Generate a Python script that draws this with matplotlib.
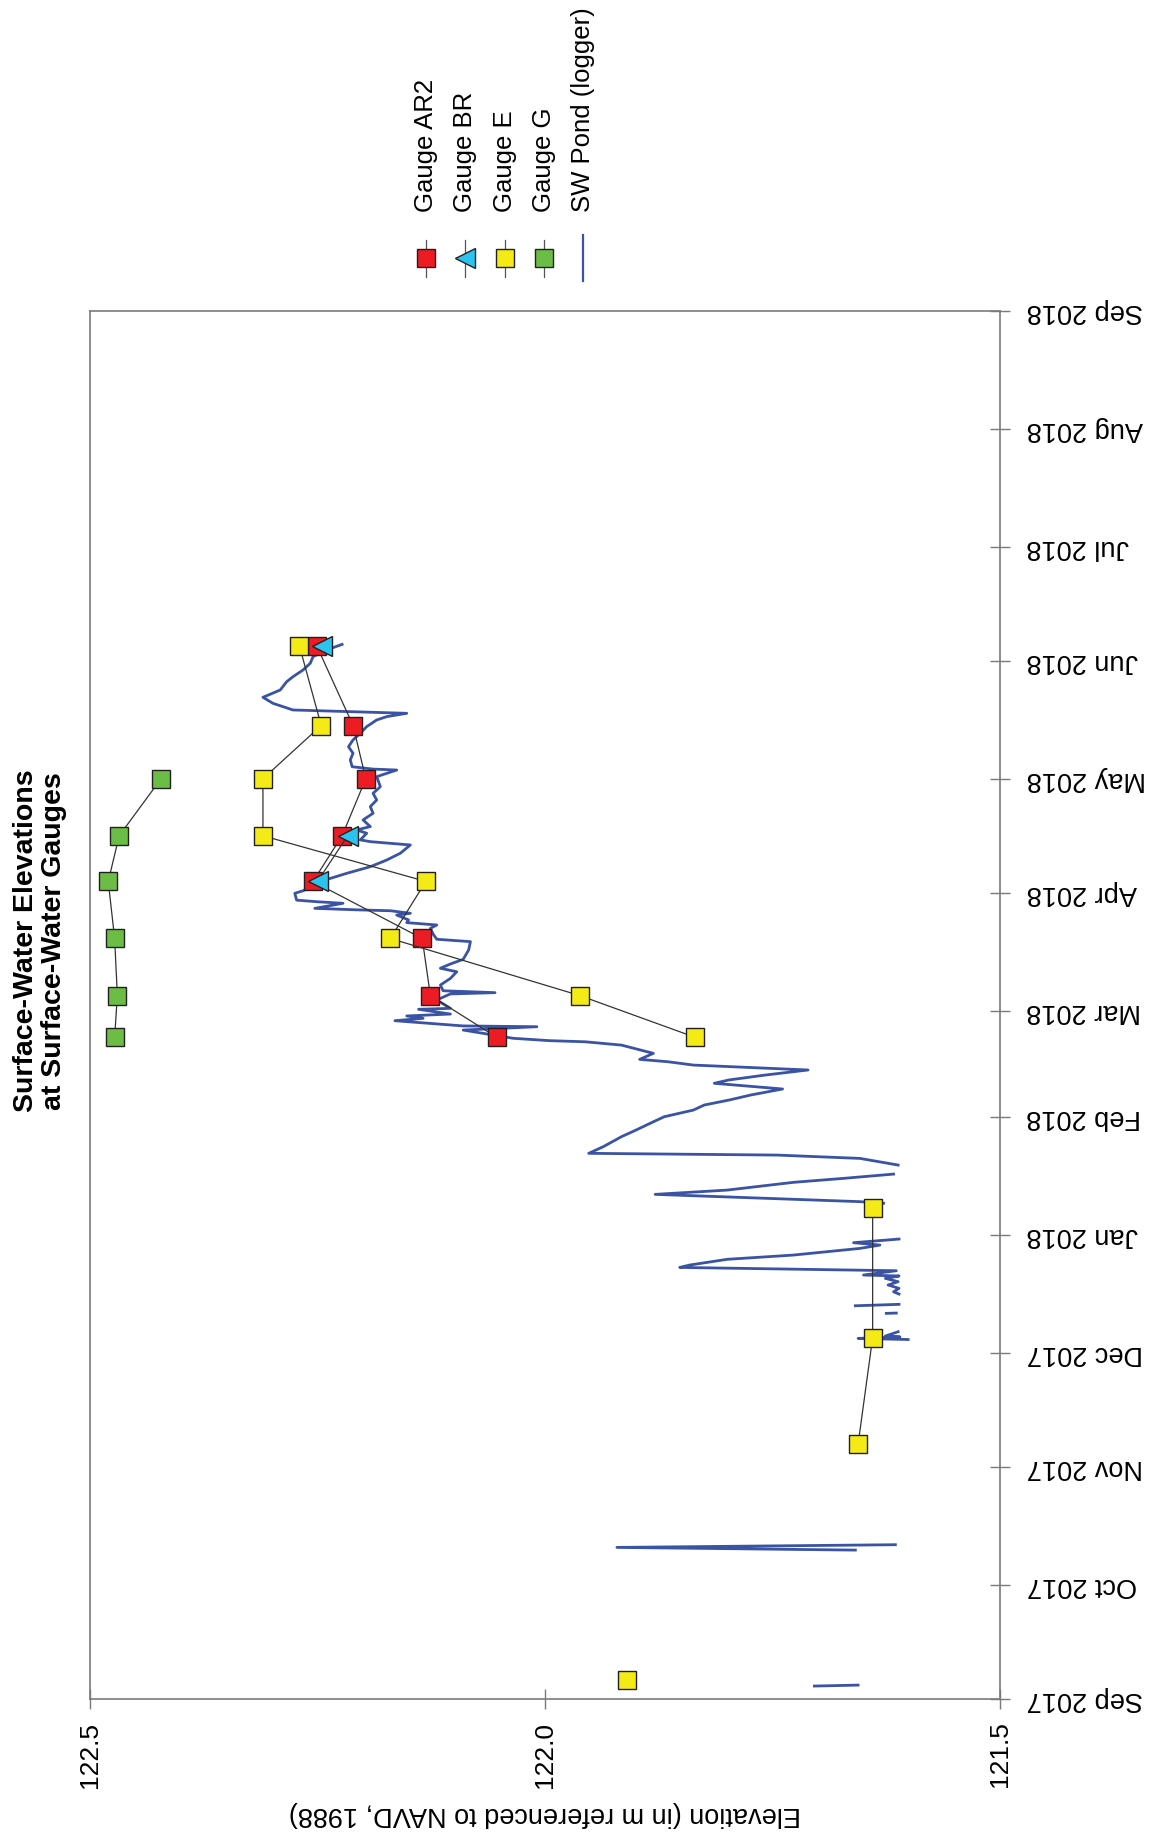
import numpy as np
import pandas as pd
import matplotlib
matplotlib.use("Agg")
import matplotlib.pyplot as plt
import matplotlib.dates as md
from matplotlib.lines import Line2D

plt.rcParams['font.family'] = ['Liberation Sans', 'DejaVu Sans']

nan = np.nan

# Field visits and staff-gauge readings (m, NAVD 1988); NaN = gauge not read
visit_dates = ["2017-09-06", "2017-10-11", "2017-11-07", "2017-12-05",
               "2018-01-08", "2018-02-07", "2018-02-22", "2018-03-05",
               "2018-03-20", "2018-04-04", "2018-04-16", "2018-05-01",
               "2018-05-15", "2018-06-05"]
gauge_ar2 = [nan, nan, nan, nan, nan, nan, 122.053, 122.126,
             122.135, 122.255, 122.223, 122.197, 122.211, 122.251]
gauge_br = [nan, nan, nan, nan, nan, nan, nan, nan,
            nan, 122.250, 122.217, nan, nan, 122.245]
gauge_e = [121.910, nan, 121.656, 121.640, 121.640, nan, 121.835, 121.962,
           122.170, 122.131, 122.310, 122.310, 122.246, 122.270]
gauge_g = [nan, nan, nan, nan, nan, nan, 122.473, 122.470,
           122.473, 122.480, 122.468, 122.422, nan, nan]

# SW Pond pressure logger (NaN rows mark gaps in the record)
logger_time = [
    "2017-09-04 10:00", "2017-09-04 16:00", "2017-09-20 00:00",
    "2017-10-10 04:00", "2017-10-10 21:00", "2017-10-11 14:00", "2017-11-20 00:00",
    "2017-12-04 13:00", "2017-12-04 20:00", "2017-12-05 05:00", "2017-12-05 11:00",
    "2017-12-06 14:00", "2017-12-09 00:00",
    "2017-12-11 10:00", "2017-12-11 12:00", "2017-12-12 12:00",
    "2017-12-13 10:00", "2017-12-13 19:00", "2017-12-15 00:00",
    "2017-12-16 12:00", "2017-12-17 02:00", "2017-12-18 00:00", "2017-12-18 21:00",
    "2017-12-19 18:00", "2017-12-20 15:00", "2017-12-21 06:00", "2017-12-21 12:00",
    "2017-12-22 15:00", "2017-12-23 12:00", "2017-12-24 03:00", "2017-12-25 15:00",
    "2017-12-26 18:00", "2017-12-28 12:00", "2017-12-29 09:00", "2017-12-30 00:00",
    "2017-12-30 23:00", "2018-01-05 00:00",
    "2018-01-09 09:00", "2018-01-09 19:00", "2018-01-10 16:00", "2018-01-11 17:00",
    "2018-01-12 20:00", "2018-01-14 21:00", "2018-01-15 22:00", "2018-01-17 01:00",
    "2018-01-18 06:00",
    "2018-01-19 10:00", "2018-01-21 04:00", "2018-01-22 01:00", "2018-01-22 12:00",
    "2018-01-24 06:00", "2018-01-26 21:00", "2018-01-28 15:00", "2018-01-30 19:00",
    "2018-02-01 03:00", "2018-02-02 21:00", "2018-02-04 05:00", "2018-02-05 12:00",
    "2018-02-06 20:00", "2018-02-08 10:00", "2018-02-09 22:00", "2018-02-10 19:00",
    "2018-02-12 02:00", "2018-02-13 10:00", "2018-02-14 17:00", "2018-02-15 14:00",
    "2018-02-16 05:00", "2018-02-17 19:00", "2018-02-19 23:00", "2018-02-20 20:00",
    "2018-02-21 03:00", "2018-02-21 18:00", "2018-02-23 22:00", "2018-02-24 19:00",
    "2018-02-25 00:00", "2018-02-26 09:00", "2018-02-27 00:00", "2018-02-27 15:00",
    "2018-02-28 03:00", "2018-03-01 09:00", "2018-03-01 15:00", "2018-03-03 20:00",
    "2018-03-05 10:00", "2018-03-05 18:00", "2018-03-06 06:00", "2018-03-07 18:00",
    "2018-03-09 12:00", "2018-03-11 06:00", "2018-03-12 04:00", "2018-03-13 07:00",
    "2018-03-14 12:00", "2018-03-16 23:00", "2018-03-19 04:00", "2018-03-19 19:00",
    "2018-03-21 04:00", "2018-03-22 16:00", "2018-03-23 13:00", "2018-03-24 04:00",
    "2018-03-24 21:00", "2018-03-26 04:00", "2018-03-26 15:00", "2018-03-27 07:00",
    "2018-03-27 12:00", "2018-03-27 22:00", "2018-03-29 06:00", "2018-03-29 16:00",
    "2018-03-30 02:00", "2018-03-31 21:00", "2018-04-01 13:00", "2018-04-04 05:00",
    "2018-04-06 03:00", "2018-04-07 21:00", "2018-04-09 15:00", "2018-04-11 10:00",
    "2018-04-13 14:00", "2018-04-14 11:00", "2018-04-14 22:00", "2018-04-16 16:00",
    "2018-04-17 13:00", "2018-04-18 10:00", "2018-04-20 04:00", "2018-04-21 22:00",
    "2018-04-23 16:00", "2018-04-25 10:00", "2018-04-27 04:00", "2018-04-28 22:00",
    "2018-05-01 13:00", "2018-05-02 10:00", "2018-05-03 07:00", "2018-05-03 13:00",
    "2018-05-04 04:00", "2018-05-05 23:00", "2018-05-07 17:00", "2018-05-09 10:00",
    "2018-05-11 05:00", "2018-05-12 23:00", "2018-05-14 17:00", "2018-05-16 11:00",
    "2018-05-17 08:00", "2018-05-18 05:00", "2018-05-19 02:00", "2018-05-20 20:00",
    "2018-05-22 10:00", "2018-05-24 08:00", "2018-05-26 12:00", "2018-05-27 20:00",
    "2018-05-29 14:00", "2018-05-31 09:00", "2018-06-02 02:00", "2018-06-03 21:00",
    "2018-06-05 08:00",
]
logger_elev = [
    121.704, 121.656, nan,
    121.659, 121.921, 121.615, nan,
    121.601, 121.656, 121.610, 121.626,
    121.612, nan,
    121.625, 121.614, nan,
    121.659, 121.611, nan,
    121.611, 121.617, 121.611, 121.623,
    121.612, 121.626, 121.611, 121.650,
    121.614, 121.852, 121.841, 121.800,
    121.727, 121.654, 121.632, 121.661,
    121.611, nan,
    121.628, 121.654, 121.756, 121.879,
    121.800, 121.727, 121.672, 121.617,
    nan,
    121.612, 121.654, 121.745, 121.952,
    121.936, 121.916, 121.900, 121.881,
    121.869, 121.837, 121.825, 121.798,
    121.774, 121.739, 121.814, 121.798,
    121.758, 121.711, 121.837, 121.865,
    121.896, 121.881, 121.916, 121.956,
    121.995, 122.035, 122.090, 122.009,
    122.090, 122.165, 122.134, 122.152,
    122.104, 122.139, 122.104, 122.119,
    122.104, 122.055, 122.112, 122.115,
    122.104, 122.097, 122.115, 122.104,
    122.090, 122.084, 122.082, 122.119,
    122.123, 122.126, 122.119, 122.152,
    122.150, 122.163, 122.148, 122.170,
    122.203, 122.253, 122.222, 122.251,
    122.273, 122.275, 122.266, 122.244,
    122.218, 122.192, 122.174, 122.159,
    122.148, 122.192, 122.203, 122.196,
    122.207, 122.192, 122.200, 122.189,
    122.192, 122.185, 122.189, 122.181,
    122.185, 122.174, 122.163, 122.189,
    122.212, 122.214, 122.211, 122.216,
    122.211, 122.203, 122.196, 122.185,
    122.174, 122.152, 122.277, 122.299,
    122.310, 122.291, 122.284, 122.277,
    122.266, 122.258, 122.255, 122.240,
    122.223,
]

visits = pd.to_datetime(visit_dates)
logger_t = pd.to_datetime(logger_time)

gauges = [
    ("Gauge AR2", gauge_ar2, "s", "#ed1c24"),
    ("Gauge BR", gauge_br, "<", "#2dc3ef"),
    ("Gauge E", gauge_e, "s", "#f3ea16"),
    ("Gauge G", gauge_g, "s", "#6cbd45"),
]
draw_order = [2, 0, 1, 3]
pond_color = "#3a53a4"
frame_color = "#7a7a7a"

fig = plt.figure(figsize=(11.68, 18.38), dpi=100)
ax = fig.add_axes([0.0771, 0.0756, 0.7791, 0.7552])

# Elevation runs across the page, time runs up the page
ax.plot(logger_elev, logger_t, color=pond_color, lw=2.0, zorder=2)
for i in draw_order:
    name, vals, mk, col = gauges[i]
    ax.plot(vals, visits, color="#333333", lw=0.9, marker=mk,
            ms=13.5 if mk == "s" else 15, mfc=col, mec="#231f20", mew=1.0,
            zorder=3 + i)

ax.set_xlim(122.5, 121.5)
ax.set_ylim(pd.Timestamp("2017-09-01"), pd.Timestamp("2018-09-01"))

ax.set_xticks([122.5, 122.0, 121.5])
ax.set_xticklabels(["122.5", "122.0", "121.5"], rotation=90, fontsize=19)
ax.yaxis.tick_right()
ax.yaxis.set_major_locator(md.MonthLocator())
ax.yaxis.set_major_formatter(md.DateFormatter("%b %Y"))
for lab in ax.get_yticklabels():
    lab.set_rotation(180)
    lab.set_fontsize(19.5)
    lab.set_verticalalignment("center")

ax.tick_params(axis="x", direction="inout", length=14.4, width=1.0,
               color=frame_color, pad=9)
ax.tick_params(axis="y", direction="inout", length=14.4, width=1.0,
               color=frame_color, pad=12)
for sp in ax.spines.values():
    sp.set_color(frame_color)
    sp.set_linewidth(1.2)

ax.set_xlabel("Elevation (in m referenced to NAVD, 1988)", fontsize=19.5,
              rotation=180, labelpad=10)

fig.text(0.034, 0.488, "Surface-Water Elevations\nat Surface-Water Gauges",
         rotation=90, ha="center", va="center", fontsize=20.5,
         fontweight="bold", linespacing=1.1)

# Legend, stacked sideways above the plot
leg_x = [0.3645, 0.3984, 0.4324, 0.4658]
for (name, vals, mk, col), x in zip(gauges, leg_x):
    fig.add_artist(Line2D([x, x], [0.8493, 0.8694], transform=fig.transFigure,
                          color="#555555", lw=0.9))
    fig.add_artist(Line2D([x], [0.8598], transform=fig.transFigure, marker=mk,
                          ms=13.5 if mk == "s" else 15, mfc=col,
                          mec="#231f20", mew=1.0))
    fig.text(x, 0.8848, name, rotation=90, ha="center", va="bottom",
             fontsize=18.5)
fig.add_artist(Line2D([0.4994, 0.4994], [0.8471, 0.8721],
                      transform=fig.transFigure, color=pond_color, lw=1.6))
fig.text(0.4994, 0.8848, "SW Pond (logger)", rotation=90, ha="center",
         va="bottom", fontsize=18.5)

fig.savefig("out.png", dpi=100)
